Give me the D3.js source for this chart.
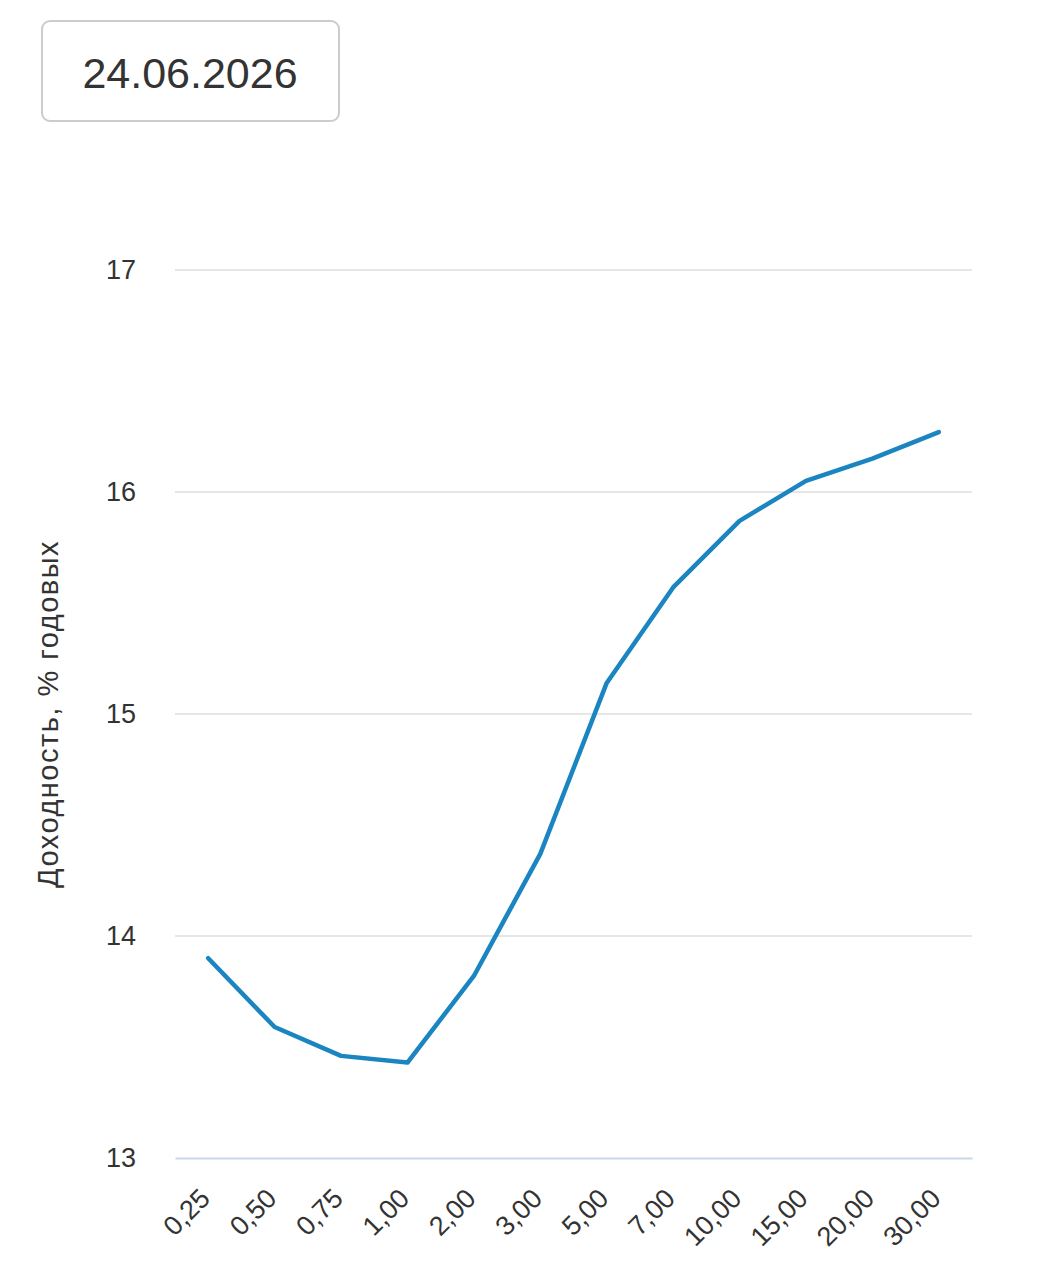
<!DOCTYPE html>
<html>
<head>
<meta charset="utf-8">
<script src="https://cdn.jsdelivr.net/npm/d3@7"></script>
<style>
  body { margin: 0; background: #fff; }
  svg { display: block; font-family: "Liberation Sans", Arial, sans-serif; }
</style>
</head>
<body>
<svg id="chart" width="1040" height="1280"></svg>
<script>
// curve date
var dateLabel = "24.06.2026";
// maturities, years
var terms = ["0,25", "0,50", "0,75", "1,00", "2,00", "3,00", "5,00", "7,00", "10,00", "15,00", "20,00", "30,00"];
// yield, % per annum
var yields = [13.90, 13.59, 13.46, 13.43, 13.82, 14.37, 15.14, 15.57, 15.87, 16.05, 16.15, 16.27];
var yTicks = [13, 14, 15, 16, 17];
var yTitle = "Доходность, % годовых";

var svg = d3.select("#chart"),
  margin = {top: 270, right: 68, bottom: 122, left: 175},
  width = +svg.attr("width") - margin.left - margin.right,
  height = +svg.attr("height") - margin.top - margin.bottom;

// date box
svg.append("rect")
  .attr("x", 42).attr("y", 21)
  .attr("width", 297).attr("height", 100)
  .attr("rx", 8)
  .attr("fill", "#fff")
  .attr("stroke", "#cccccc")
  .attr("stroke-width", 2);

svg.append("text")
  .attr("x", 190).attr("y", 88)
  .attr("text-anchor", "middle")
  .style("font-size", "43px")
  .attr("fill", "#333")
  .text(dateLabel);

var g = svg.append("g").attr("transform", "translate(" + margin.left + "," + margin.top + ")");

var x = d3.scalePoint()
  .domain(terms)
  .range([0, width])
  .padding(0.5);

var y = d3.scaleLinear()
  .domain([13, 17])
  .range([height, 0]);

// gridlines
g.append("g")
  .selectAll("line")
  .data(yTicks.slice(1))
  .enter().append("line")
  .attr("x1", 0).attr("x2", width)
  .attr("y1", d => y(d)).attr("y2", d => y(d))
  .attr("stroke", "#e6e6e6")
  .attr("stroke-width", 2);

// y axis labels
var yAxis = g.append("g")
  .call(d3.axisLeft(y).tickValues(yTicks).tickFormat(d3.format("d")).tickSize(0).tickPadding(39));
yAxis.select(".domain").remove();
yAxis.selectAll("text")
  .style("font-size", "27px")
  .attr("fill", "#333");

// x axis
var xAxis = g.append("g")
  .attr("transform", "translate(0," + height + ")")
  .call(d3.axisBottom(x).tickSize(0));
xAxis.select(".domain")
  .attr("stroke", "#ccd6eb")
  .attr("stroke-width", 2);
xAxis.selectAll("text")
  .style("font-size", "27px")
  .attr("fill", "#333")
  .attr("text-anchor", "end")
  .attr("dy", null)
  .attr("y", 0)
  .attr("transform", "translate(3,42) rotate(-45)");

// y axis title
svg.append("text")
  .attr("transform", "translate(58," + (margin.top + y(15)) + ") rotate(-90)")
  .attr("text-anchor", "middle")
  .style("font-size", "29px")
  .style("letter-spacing", "1.5px")
  .attr("fill", "#333")
  .text(yTitle);

// curve
var line = d3.line()
  .x((d, i) => x(terms[i]))
  .y(d => y(d));

g.append("path")
  .datum(yields)
  .attr("d", line)
  .attr("fill", "none")
  .attr("stroke", "#1a85c0")
  .attr("stroke-width", 4.5)
  .attr("stroke-linejoin", "round")
  .attr("stroke-linecap", "round");
</script>
</body>
</html>
